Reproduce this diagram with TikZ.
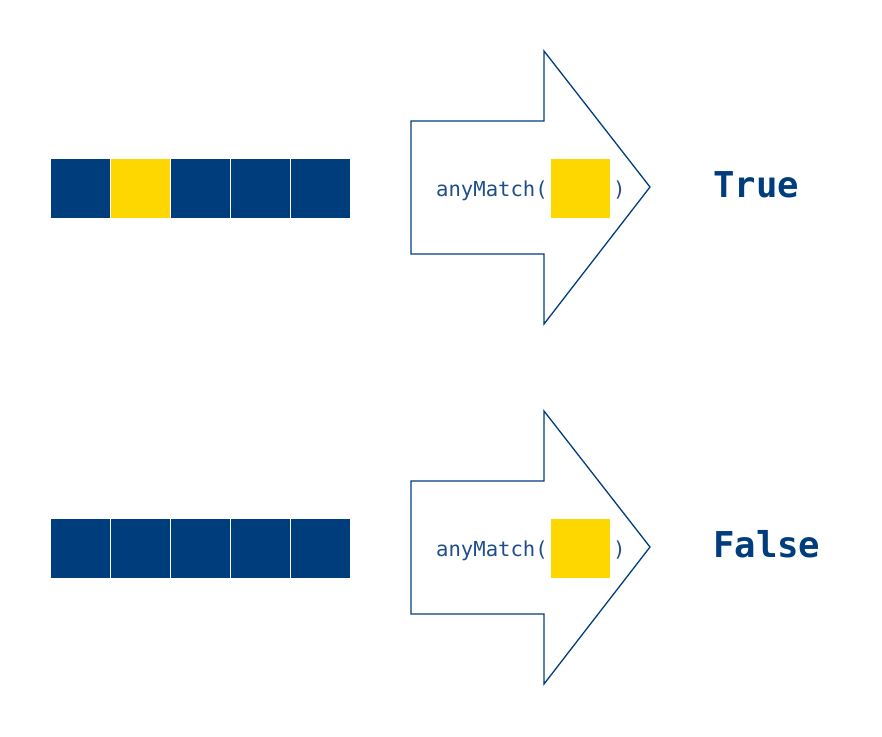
\documentclass[tikz,border=0pt]{standalone}
\usepackage{fontspec}
\setmonofont{DejaVu Sans Mono}
\usetikzlibrary{positioning}
\definecolor{Navy}{HTML}{003D7D}
\definecolor{Gold}{HTML}{FFD700}
\definecolor{Ink}{HTML}{1F4E8A}

\begin{document}
\begin{tikzpicture}[x=1pt,y=-1pt,
    cell/.style={minimum size=59pt,inner sep=0pt,outer sep=0pt,fill=Navy},
    hit/.style={cell,fill=Gold},
    arr/.style={draw=Navy,line width=1.3pt,line join=miter},
    call/.style={font=\ttfamily\fontsize{20.6}{24}\selectfont,text=Ink,inner sep=0pt},
    res/.style={font=\ttfamily\bfseries\fontsize{35.6}{42}\selectfont,text=Navy,inner sep=0pt}]
    \useasboundingbox (0,0) rectangle (882,736);
    % first row: one element matches
    \node[cell] (a1) at (80.5,188) {};
    \node[hit,right=1pt of a1] (a2) {};
    \node[cell,right=1pt of a2] (a3) {};
    \node[cell,right=1pt of a3] (a4) {};
    \node[cell,right=1pt of a4] (a5) {};
    \draw[arr] (411,121) coordinate (p1) -- (544,121) -- (544,51) -- (650,187) coordinate (t1)
        -- (544,324) -- (544,254) -- (411,254) -- cycle;
    \node[hit] (q1) at (580,188.5) {};
    \node[call,anchor=base east] (m1) at (548,196) {anyMatch(};
    \node[call,anchor=base west] (c1) at (613,196) {)};
    \node[res,anchor=base west] (r1) at (713,197) {True};
    % second row: nothing matches
    \node[cell] (b1) at (80.5,548) {};
    \node[cell,right=1pt of b1] (b2) {};
    \node[cell,right=1pt of b2] (b3) {};
    \node[cell,right=1pt of b3] (b4) {};
    \node[cell,right=1pt of b4] (b5) {};
    \draw[arr] (411,481) coordinate (p2) -- (544,481) -- (544,411) -- (650,547) coordinate (t2)
        -- (544,684) -- (544,614) -- (411,614) -- cycle;
    \node[hit] (q2) at (580,548.5) {};
    \node[call,anchor=base east] (m2) at (548,556) {anyMatch(};
    \node[call,anchor=base west] (c2) at (613,556) {)};
    \node[res,anchor=base west] (r2) at (713,557) {False};
\end{tikzpicture}
\end{document}
